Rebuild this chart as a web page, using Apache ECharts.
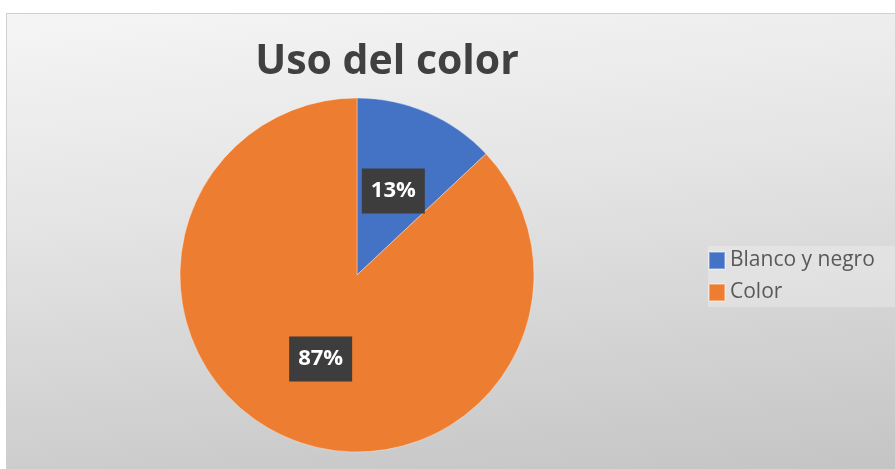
<!DOCTYPE html>
<html>
<head>
<meta charset="utf-8">
<script src="https://cdn.jsdelivr.net/npm/echarts@6/dist/echarts.min.js"></script>
<style>
  html, body { margin: 0; padding: 0; background: #ffffff; width: 895px; height: 469px; overflow: hidden; }
  #frame { position: absolute; left: 6px; top: 13px; width: 900px; height: 470px;
           border-top: 1px solid #d0d0d0; border-left: 1px solid #d0d0d0; }
  #chart { position: absolute; left: 0; top: 0; width: 888px; height: 455px;
           background: linear-gradient(174deg, #f5f5f5 0%, #e4e4e4 40%, #c4c4c4 100%); }
</style>
</head>
<body>
<div id="frame"><div id="chart"></div></div>
<script>
const titleText = 'Uso del color';
const categories = ['Blanco y negro', 'Color'];
const values = [13, 87];
const colors = ['#4472C4', '#ED7D31'];

const chart = echarts.init(document.getElementById('chart'), null, { renderer: 'canvas' });
chart.setOption({
  backgroundColor: 'transparent',
  animation: false,
  graphic: [{
    type: 'text',
    x: 380,
    y: 48,
    style: {
      text: titleText,
      align: 'center',
      verticalAlign: 'middle',
      font: 'bold 41px "Open Sans"',
      fill: '#404040'
    }
  }],
  legend: {
    orient: 'vertical',
    left: 701,
    top: 232,
    padding: [4, 60, 4, 0],
    backgroundColor: 'rgba(255,255,255,0.25)',
    itemWidth: 16,
    itemHeight: 17,
    itemGap: 11,
    icon: 'rect',
    textStyle: { fontFamily: 'Open Sans', fontSize: 21, color: '#595959', lineHeight: 20 },
    data: categories
  },
  series: [{
    type: 'pie',
    center: [350, 261],
    radius: 177,
    startAngle: 90,
    clockwise: true,
    silent: true,
    itemStyle: { borderColor: 'rgba(255,255,255,0.35)', borderWidth: 1 },
    label: {
      show: true,
      position: 'inside',
      formatter: '{c}%',
      color: '#ffffff',
      fontFamily: 'Open Sans',
      fontWeight: 'bold',
      fontSize: 22,
      lineHeight: 23,
      backgroundColor: '#3d3d3d',
      padding: [11, 9]
    },
    labelLine: { show: false },
    data: categories.map((name, i) => ({ name, value: values[i], itemStyle: { color: colors[i] } }))
  }]
});
</script>
</body>
</html>
